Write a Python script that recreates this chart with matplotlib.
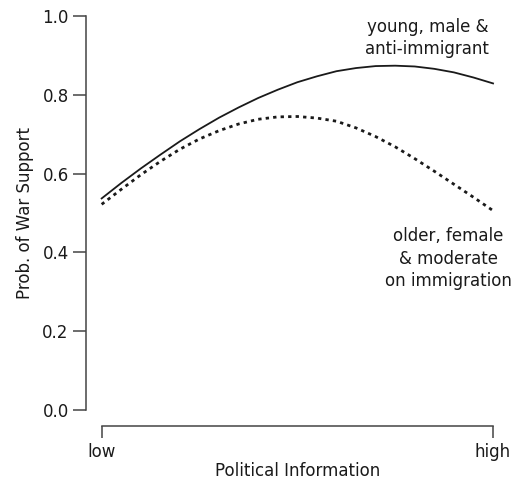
import matplotlib

matplotlib.use("Agg")
import matplotlib.pyplot as plt

plt.rcParams["font.family"] = ["DejaVu Sans"]

# predicted probabilities along the political information scale (0 = low, 1 = high)
info = [0.0, 0.05, 0.1, 0.15, 0.2, 0.25, 0.3, 0.35, 0.4, 0.45, 0.5,
        0.55, 0.6, 0.65, 0.7, 0.75, 0.8, 0.85, 0.9, 0.95, 1.0]
young_male_anti = [0.537, 0.576, 0.613, 0.648, 0.682, 0.713, 0.742, 0.768, 0.792, 0.813, 0.832,
                   0.847, 0.860, 0.868, 0.873, 0.874, 0.872, 0.866, 0.857, 0.844, 0.829]
older_female_mod = [0.522, 0.560, 0.597, 0.631, 0.662, 0.688, 0.709, 0.726, 0.738, 0.744, 0.745,
                    0.741, 0.733, 0.716, 0.694, 0.668, 0.638, 0.606, 0.573, 0.540, 0.506]

y_ticks = [0.0, 0.2, 0.4, 0.6, 0.8, 1.0]
x_ticks = [0.0, 1.0]
x_labels = ["low", "high"]

ink = "#1a1a1a"
axis_col = "#444444"
fs = 12

fig = plt.figure(figsize=(5.15, 4.83), dpi=100)
ax = fig.add_axes([86 / 515, 1 - 425.7 / 483, (508.7 - 86) / 515, (425.7 - 0.3) / 483])

ax.plot(info, young_male_anti, color=ink, lw=1.3)
ax.plot(info, older_female_mod, color=ink, lw=2.0, linestyle=(0, (1.2, 1.5)))

ax.set_xlim(-0.04, 1.04)
ax.set_ylim(-0.04, 1.04)

for side in ("top", "right"):
    ax.spines[side].set_visible(False)
ax.spines["left"].set_bounds(0, 1)
ax.spines["bottom"].set_bounds(0, 1)
for side in ("left", "bottom"):
    ax.spines[side].set_color(axis_col)
    ax.spines[side].set_linewidth(1.1)

ax.set_yticks(y_ticks)
ax.set_yticklabels([f"{v:.1f}" for v in y_ticks])
ax.set_xticks(x_ticks)
ax.set_xticklabels(x_labels)
ax.tick_params(axis="y", length=9.5, width=1.1, color=axis_col, pad=3, labelsize=fs, labelcolor=ink)
ax.tick_params(axis="x", length=8.5, width=1.1, color=axis_col, pad=4, labelsize=fs, labelcolor=ink)

ax.set_ylabel("Prob. of War Support", fontsize=fs, color=ink, labelpad=6)
ax.set_xlabel("Political Information", fontsize=fs, color=ink, labelpad=1)

ax.text(0.832, 0.944, "young, male &\nanti-immigrant", ha="center", va="center",
        fontsize=fs, color=ink, linespacing=1.3)
ax.text(0.885, 0.384, "older, female\n& moderate\non immigration", ha="center", va="center",
        fontsize=fs, color=ink, linespacing=1.3)

fig.savefig("out.png", dpi=100)
